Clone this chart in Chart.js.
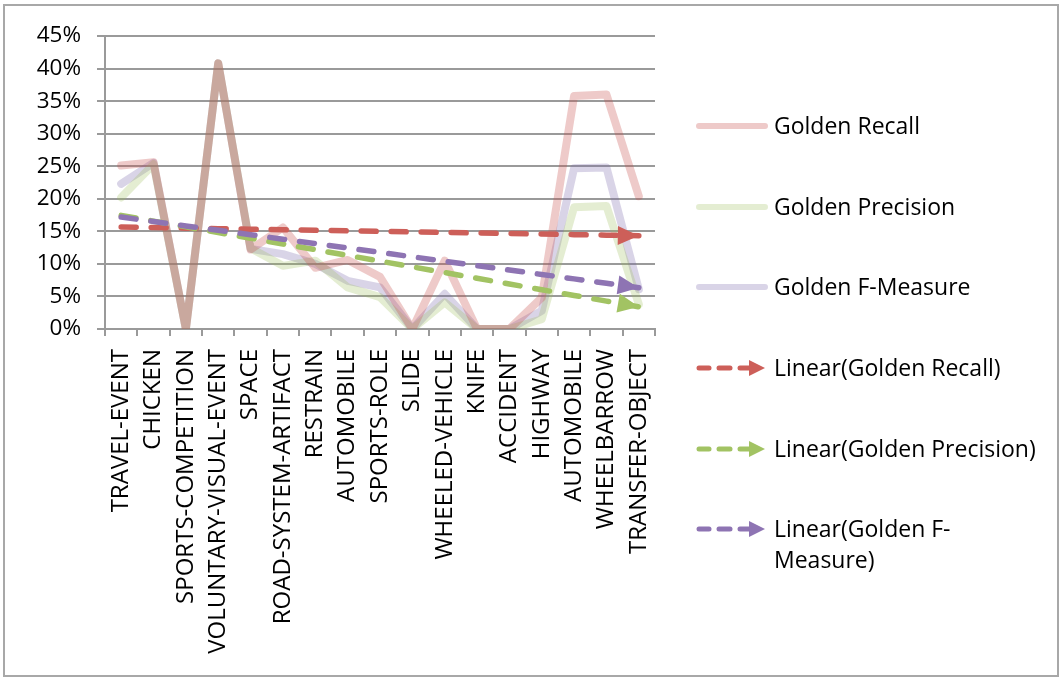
<!DOCTYPE html>
<html>
<head>
<meta charset="utf-8">
<script src="https://cdn.jsdelivr.net/npm/chart.js@4.4.1/dist/chart.umd.min.js"></script>
<style>
  html, body { margin: 0; padding: 0; background: #fff; }
  body { width: 1060px; height: 677px; position: relative; overflow: hidden; font-family: "Open Sans", sans-serif; }
  #frame { position: absolute; left: 3px; top: 4px; width: 1052px; height: 669px; border: 2px solid #a8a8a8; box-sizing: content-box; }
  #wrap { position: absolute; left: 0; top: 0; width: 1060px; height: 677px; }
  #legend { position: absolute; left: 0; top: 0; width: 1060px; height: 677px; pointer-events: none; }
  .item { position: absolute; left: 695px; display: flex; align-items: flex-start; }
  .item svg { flex: none; margin-top: 6px; }
  .item span { margin-left: 5px; font-size: 23px; line-height: 31px; color: #000; white-space: nowrap; }
</style>
</head>
<body>
<div id="frame"></div>
<div id="wrap"><canvas id="c" width="1060" height="677"></canvas></div>
<div id="legend"></div>
<script>
// Categories along the x axis
const categories = [
  "TRAVEL-EVENT", "CHICKEN", "SPORTS-COMPETITION", "VOLUNTARY-VISUAL-EVENT", "SPACE",
  "ROAD-SYSTEM-ARTIFACT", "RESTRAIN", "AUTOMOBILE", "SPORTS-ROLE", "SLIDE",
  "WHEELED-VEHICLE", "KNIFE", "ACCIDENT", "HIGHWAY", "AUTOMOBILE", "WHEELBARROW", "TRANSFER-OBJECT"
];

// Scores in percent
const goldenRecall    = [25.1, 25.6, 0, 40.8, 12.2, 15.6, 9.4, 10.6, 8.0, 0, 10.5, 0, 0, 4.8, 35.8, 36.0, 20.4];
const goldenPrecision = [20.2, 25.3, 0, 40.8, 12.4,  9.7, 10.5, 6.4, 4.9, 0,  4.1, 0, 0, 1.5, 18.7, 18.9,  3.8];
const goldenFMeasure  = [22.3, 25.5, 0, 40.8, 12.3, 11.5, 10.0, 7.4, 6.4, 0,  5.4, 0, 0, 2.8, 24.7, 24.8,  6.1];

// Y axis ticks (percent)
const yTicks = [0, 5, 10, 15, 20, 25, 30, 35, 40, 45];

const seriesNames = ["Golden Recall", "Golden Precision", "Golden F-Measure"];
const trendNames = ["Linear(Golden Recall)", "Linear(Golden Precision)", "Linear(Golden F-Measure)"];

// Least-squares linear trend over the category index
function linearTrend(values) {
  const n = values.length;
  let sx = 0, sy = 0, sxx = 0, sxy = 0;
  values.forEach((v, i) => { sx += i; sy += v; sxx += i * i; sxy += i * v; });
  const slope = (n * sxy - sx * sy) / (n * sxx - sx * sx);
  const icpt = (sy - slope * sx) / n;
  return values.map((_, i) => icpt + slope * i);
}

const softColors = ["rgba(200,80,77,0.30)", "rgba(155,187,89,0.27)", "rgba(120,100,170,0.28)"];
const trendColors = ["#cd5f59", "#a2c363", "#8e74b3"];
const FONT = "'Open Sans', sans-serif";

const seriesData = [goldenRecall, goldenPrecision, goldenFMeasure];

const datasets = [];
seriesData.forEach((vals, k) => {
  datasets.push({
    label: seriesNames[k], data: vals, borderColor: softColors[k], borderWidth: 8,
    pointRadius: 0, tension: 0, borderCapStyle: "round", borderJoinStyle: "round",
    order: 10 + k, fill: false
  });
});
seriesData.forEach((vals, k) => {
  datasets.push({
    label: trendNames[k], data: linearTrend(vals), borderColor: trendColors[k], borderWidth: 5.5,
    borderDash: [15, 15], borderCapStyle: "round", pointRadius: 0, tension: 0,
    order: 2 - k, fill: false, isTrend: true
  });
});

// Arrowheads at the end of each trend line
const arrowPlugin = {
  id: "trendArrows",
  afterDatasetsDraw(chart) {
    const ctx = chart.ctx;
    chart.data.datasets.forEach((ds, i) => {
      if (!ds.isTrend) return;
      const pts = chart.getDatasetMeta(i).data;
      const a = pts[pts.length - 2], b = pts[pts.length - 1];
      const ang = Math.atan2(b.y - a.y, b.x - a.x);
      const len = 21, half = 9.5;
      ctx.save();
      ctx.translate(b.x, b.y);
      ctx.rotate(ang);
      ctx.fillStyle = ds.borderColor;
      ctx.beginPath();
      ctx.moveTo(0, 0);
      ctx.lineTo(-len, -half);
      ctx.lineTo(-len, half);
      ctx.closePath();
      ctx.fill();
      ctx.restore();
    });
  }
};

new Chart(document.getElementById("c"), {
  type: "line",
  data: { labels: categories, datasets },
  options: {
    responsive: false,
    animation: false,
    events: [],
    layout: { padding: { left: 0, top: 36, right: 405, bottom: 0 } },
    plugins: { legend: { display: false }, tooltip: { enabled: false } },
    scales: {
      x: {
        type: "category",
        offset: true,
        grid: { offset: true, drawOnChartArea: false, drawTicks: true, tickLength: 7, color: "#9a9a9a", lineWidth: 2 },
        border: { display: true, color: "#9a9a9a", width: 2 },
        ticks: { autoSkip: false, minRotation: 90, maxRotation: 90, padding: 13, color: "#000", font: { family: FONT, size: 24 } },
        afterFit(axis) { axis.height = 677 - 329; }
      },
      y: {
        min: yTicks[0], max: yTicks[yTicks.length - 1],
        afterBuildTicks(axis) { axis.ticks = yTicks.map(v => ({ value: v })); },
        grid: { color: "#9a9a9a", lineWidth: 2, tickLength: 8 },
        border: { display: true, color: "#9a9a9a", width: 2 },
        ticks: { padding: 16, color: "#000", font: { family: FONT, size: 22.5 }, callback: v => v + "%" },
        afterFit(axis) { axis.width = 105; }
      }
    }
  },
  plugins: [arrowPlugin]
});

// Legend on the right
const legend = document.getElementById("legend");
const legendRows = [110, 191, 271, 352, 433, 513];
function solidSample(color) {
  return `<svg width="74" height="20"><line x1="4" y1="10" x2="70" y2="10" stroke="${color}" stroke-width="6" stroke-linecap="round"/></svg>`;
}
function arrowSample(color) {
  return `<svg width="74" height="20">
    <line x1="4" y1="10" x2="14" y2="10" stroke="${color}" stroke-width="5" stroke-linecap="round"/>
    <line x1="24" y1="10" x2="35" y2="10" stroke="${color}" stroke-width="5" stroke-linecap="round"/>
    <line x1="45" y1="10" x2="56" y2="10" stroke="${color}" stroke-width="5" stroke-linecap="round"/>
    <polygon points="54,2 70,10 54,18" fill="${color}"/></svg>`;
}
const legendEntries = [
  { text: seriesNames[0], svg: solidSample(softColors[0]) },
  { text: seriesNames[1], svg: solidSample(softColors[1]) },
  { text: seriesNames[2], svg: solidSample(softColors[2]) },
  { text: trendNames[0], svg: arrowSample(trendColors[0]) },
  { text: trendNames[1], svg: arrowSample(trendColors[1]) },
  { text: "Linear(Golden F-<br>Measure)", svg: arrowSample(trendColors[2]) }
];
legendEntries.forEach((e, i) => {
  const d = document.createElement("div");
  d.className = "item";
  d.style.top = legendRows[i] + "px";
  d.innerHTML = e.svg + `<span>${e.text}</span>`;
  legend.appendChild(d);
});
</script>
</body>
</html>
